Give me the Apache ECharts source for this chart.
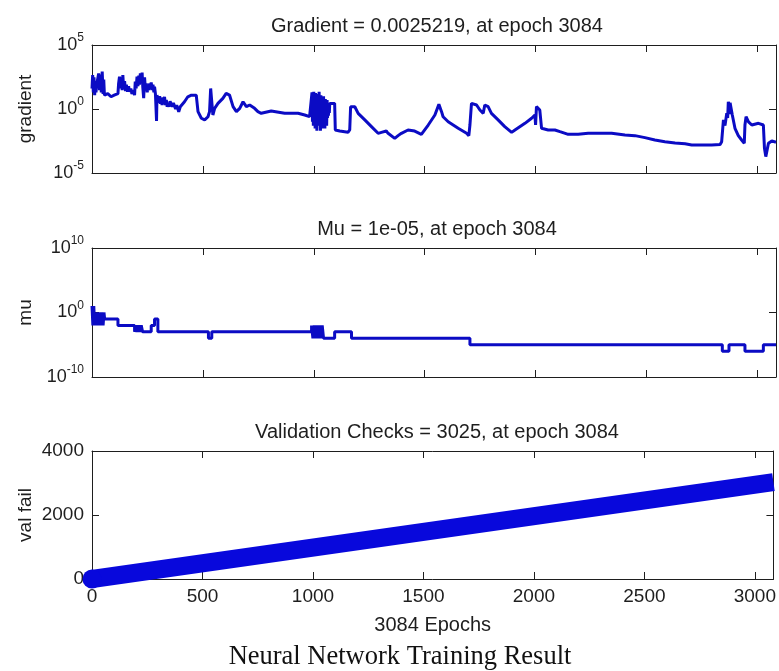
<!DOCTYPE html>
<html>
<head>
<meta charset="utf-8">
<script src="https://cdn.jsdelivr.net/npm/echarts@6/dist/echarts.min.js"></script>
<style>
html, body { margin: 0; padding: 0; background: #fff; }
#main { width: 779px; height: 671px; }
</style>
</head>
<body>
<div id="main"></div>
<script>
// training record
var epochMax = 3084;
var epochStep = 500;

var gradEpoch = [0, 3, 6, 9, 12, 15, 18, 22, 26, 30, 34, 38, 42, 46, 50, 53, 56, 71, 86, 100,
	117, 120, 124, 128, 132, 136, 139, 143, 147, 151, 155, 160, 165, 169, 175, 180, 186, 192, 195, 199,
	203, 207, 211, 214, 218, 222, 226, 229, 233, 237, 241, 245, 249, 252, 256, 260, 264, 267, 271, 275,
	279, 282, 286, 290, 291, 293, 297, 301, 305, 309, 312, 316, 320, 324, 327, 331, 335, 339, 342, 347,
	352, 357, 362, 367, 372, 377, 382, 387, 391, 395, 398, 402, 417, 432, 448, 470, 478, 493, 508, 523,
	530, 535, 545, 553, 568, 590, 605, 620, 636, 651, 666, 681, 696, 711, 733, 748, 763, 808, 869, 929,
	959, 981, 990, 992, 994, 996, 998, 1000, 1002, 1004, 1006, 1008, 1010, 1012, 1014, 1016, 1018, 1020, 1022, 1024,
	1026, 1028, 1030, 1032, 1034, 1036, 1038, 1040, 1042, 1044, 1046, 1048, 1050, 1052, 1054, 1056, 1058, 1060, 1062, 1064,
	1066, 1068, 1070, 1072, 1094, 1097, 1117, 1154, 1162, 1166, 1185, 1200, 1230, 1260, 1290, 1305, 1327, 1335, 1365, 1380,
	1395, 1425, 1455, 1485, 1516, 1546, 1564, 1576, 1583, 1606, 1651, 1689, 1699, 1704, 1711, 1734, 1749, 1764, 1771, 1786,
	1801, 1831, 1861, 1892, 1907, 1952, 1982, 1997, 2000, 2004, 2019, 2027, 2057, 2087, 2110, 2147, 2192, 2237, 2283, 2343,
	2403, 2448, 2493, 2538, 2583, 2629, 2674, 2704, 2749, 2794, 2832, 2839, 2847, 2854, 2862, 2866, 2869, 2873, 2877, 2881,
	2887, 2899, 2914, 2929, 2941, 2944, 2949, 2960, 2975, 3005, 3027, 3032, 3038, 3050, 3065, 3084];
var gradValue = [40, 450, 20, 300, 12, 150, 20, 100, 75, 600, 30, 500, 20, 830, 15, 200, 12, 16, 9, 12,
	16, 100, 340, 40, 300, 30, 450, 40, 150, 25, 80, 22, 60, 22, 40, 15, 30, 12, 140, 40,
	340, 60, 400, 80, 600, 100, 700, 50, 7, 300, 30, 100, 20, 60, 30, 100, 40, 120, 30, 80,
	20, 55, 15, 12, 0.115, 12, 12, 3, 10, 2.5, 6, 2, 8, 3, 9, 2, 5, 1.5, 3, 1.5,
	4, 3.7, 1.5, 3, 2.75, 1, 2, 1.5, 0.6, 0.46, 1.5, 1.5, 3.7, 9, 12, 12, 0.62, 0.19, 0.14, 0.25,
	0.62, 40, 0.34, 1.13, 2.75, 6.8, 16.6, 12.3, 1.52, 0.62, 1.13, 3.7, 1.52, 2.05, 1.13, 0.62, 0.46, 0.7, 0.46, 0.46,
	0.34, 0.25, 0.3, 20, 0.1, 15, 0.05, 22, 0.1, 12, 0.03, 18, 0.08, 10, 0.02, 15, 0.1, 8, 0.05, 22,
	0.2, 10, 0.02, 12, 0.06, 8, 0.1, 6, 0.03, 10, 0.15, 5, 0.03, 6, 0.1, 4, 0.05, 5, 0.2, 3,
	0.3, 3, 0.5, 2.75, 2.75, 0.023, 0.019, 0.015, 0.023, 1.5, 1.5, 0.46, 0.14, 0.042, 0.0126, 0.015, 0.019, 0.0126, 0.0051, 0.0083,
	0.0126, 0.023, 0.019, 0.0105, 0.056, 0.34, 2.3, 0.62, 0.25, 0.10, 0.031, 0.0126, 0.0083, 0.056, 2.75, 2.05, 0.83, 0.46, 2.05, 1.52,
	0.46, 0.14, 0.042, 0.015, 0.023, 0.076, 0.19, 0.34, 0.056, 1.52, 0.83, 0.031, 0.023, 0.023, 0.017, 0.0105, 0.0105, 0.0126, 0.0126, 0.0126,
	0.0093, 0.0083, 0.0058, 0.0038, 0.0028, 0.0022, 0.0019, 0.00155, 0.00155, 0.00155, 0.0017, 0.0028, 0.14, 0.05, 0.46, 0.2, 3.7, 0.4, 3, 3.7,
	0.34, 0.031, 0.0083, 0.0038, 0.0021, 0.056, 0.25, 0.10, 0.056, 0.076, 0.056, 0.00085, 0.00019, 0.0021, 0.0032, 0.0025219];

var muEpoch = [0, 4, 8, 12, 16, 20, 25, 30, 35, 40, 45, 50, 54, 57, 117, 192, 198, 204, 210, 216,
	222, 228, 267, 282, 297, 525, 540, 990, 996, 1002, 1008, 1014, 1020, 1026, 1032, 1038, 1044, 1094, 1170, 1704,
	2842, 2872, 2944, 3027, 3084];
var muValue = [10, 0.01, 10, 0.01, 1, 0.01, 1, 0.01, 1, 0.01, 1, 0.01, 1, 0.1, 0.01, 0.001, 0.01, 0.001, 0.01, 0.001,
	0.01, 0.001, 0.01, 0.1, 0.001, 0.0001, 0.001, 0.01, 0.0001, 0.01, 0.0001, 0.01, 0.0001, 0.01, 0.0001, 0.01, 0.0001, 0.001, 0.0001, 0.00001,
	0.000001, 0.00001, 0.000001, 0.00001, 0.00001];

var valEpoch = [0, 3084];
var valFail = [0, 3025];

// tick labels (exponents for the log panels)
var gradTicks = [-5, 0, 5];
var muTicks = [-10, 0, 10];
var valTicks = [0, 2000, 4000];

var ink = '#1e1e1e';
var lineBlue = '#0b0bc4';
var bandBlue = '#0808dc';
var sans = '"Liberation Sans", Arial, sans-serif';

function pairs(xs, ys, logY) {
	return xs.map(function (x, i) {
		return [x, logY ? Math.log10(ys[i]) : ys[i]];
	});
}

function plain(v) {
	return String(v);
}

function epochAxis(grid, pos, showLabel) {
	return {
		type: 'value', gridIndex: grid, position: pos,
		min: 0, max: epochMax, interval: epochStep,
		axisLine: {show: true, onZero: false, lineStyle: {color: ink, width: 1}},
		axisTick: {show: true, inside: true, length: 7, lineStyle: {color: ink}},
		axisLabel: {show: showLabel, margin: 8, showMaxLabel: false, fontSize: 19, color: ink, fontFamily: sans, formatter: plain},
		splitLine: {show: false}
	};
}

function sideAxis(grid, pos, ticks, isLog, name) {
	var ax = {
		type: 'value', gridIndex: grid, position: pos,
		min: ticks[0], max: ticks[ticks.length - 1], interval: ticks[1] - ticks[0],
		axisLine: {show: true, onZero: false, lineStyle: {color: ink, width: 1}},
		axisTick: {show: true, inside: true, length: 7, lineStyle: {color: ink}},
		splitLine: {show: false},
		axisLabel: {show: false}
	};
	if (pos === 'left') {
		ax.name = name;
		ax.nameLocation = 'middle';
		ax.nameGap = 57;
		ax.nameMoveOverlap = false;
		ax.nameTextStyle = {fontSize: 19, color: ink, fontFamily: sans};
		ax.axisLabel = {
			show: true, margin: 8, color: ink, fontFamily: sans, fontSize: 19,
			formatter: isLog ? function (v) { return '{b|10}{s|' + v + '}'; } : plain,
			rich: {
				b: {fontSize: 18, fontFamily: sans, color: ink, lineHeight: 26, verticalAlign: 'middle'},
				s: {fontSize: 12, fontFamily: sans, color: ink, lineHeight: 12, verticalAlign: 'top'}
			}
		};
	}
	return ax;
}

function panelTitle(text, top) {
	return {
		text: text, left: 432, top: top, textAlign: 'center',
		textStyle: {fontSize: 20, fontWeight: 'normal', color: ink, fontFamily: sans}
	};
}

var chart = echarts.init(document.getElementById('main'));

var bottomX = epochAxis(2, 'bottom', true);
bottomX.name = '3084 Epochs';
bottomX.nameLocation = 'middle';
bottomX.nameGap = 36;
bottomX.nameMoveOverlap = false;
bottomX.nameTextStyle = {fontSize: 20, color: ink, fontFamily: sans};

// val fail: circle marker only at the first point, the band runs into the right border
var valData = pairs(valEpoch, valFail, false).map(function (p, i) {
	return {value: p, symbol: i === 0 ? 'circle' : 'none'};
});

chart.setOption({
	animation: false,
	backgroundColor: '#fff',
	title: [
		panelTitle('Gradient = 0.0025219, at epoch 3084', 11),
		panelTitle('Mu = 1e-05, at epoch 3084', 214),
		panelTitle('Validation Checks = 3025, at epoch 3084', 417)
	],
	graphic: [{
		type: 'text', x: 400, y: 657,
		style: {
			text: 'Neural Network Training Result', textAlign: 'center', textVerticalAlign: 'middle',
			fontSize: 26.5, fontFamily: '"Liberation Serif", "Times New Roman", serif', fill: '#111'
		}
	}],
	grid: [
		{left: 92, right: 3, top: 45, height: 128},
		{left: 92, right: 3, top: 248, height: 129},
		{left: 92, right: 3, top: 451, height: 128}
	],
	xAxis: [
		epochAxis(0, 'bottom', false), epochAxis(0, 'top', false),
		epochAxis(1, 'bottom', false), epochAxis(1, 'top', false),
		bottomX, epochAxis(2, 'top', false)
	],
	yAxis: [
		sideAxis(0, 'left', gradTicks, true, 'gradient'), sideAxis(0, 'right', gradTicks, true),
		sideAxis(1, 'left', muTicks, true, 'mu'), sideAxis(1, 'right', muTicks, true),
		sideAxis(2, 'left', valTicks, false, 'val fail'), sideAxis(2, 'right', valTicks, false)
	],
	series: [
		{
			name: 'gradient', type: 'line', xAxisIndex: 0, yAxisIndex: 0,
			data: pairs(gradEpoch, gradValue, true),
			showSymbol: false, lineStyle: {color: lineBlue, width: 3}
		},
		{
			name: 'mu', type: 'line', xAxisIndex: 2, yAxisIndex: 2, step: 'end',
			data: pairs(muEpoch, muValue, true),
			showSymbol: false, lineStyle: {color: lineBlue, width: 3}
		},
		{
			name: 'val fail', type: 'line', xAxisIndex: 4, yAxisIndex: 4,
			data: valData,
			clip: false, symbol: 'circle', symbolSize: 19, showSymbol: true,
			itemStyle: {color: bandBlue}, lineStyle: {color: bandBlue, width: 18}
		}
	]
});
</script>
</body>
</html>
